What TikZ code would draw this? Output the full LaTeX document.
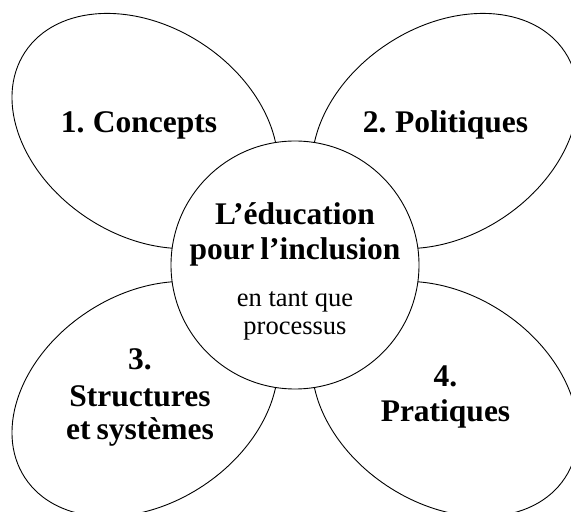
\documentclass[tikz,border=0pt]{standalone}
\usepackage{fontspec}
\setmainfont{Liberation Serif}
\newcommand\petalfont{\fontsize{31.5}{35}\selectfont\bfseries\spaceskip=0.19em\relax}
\newcommand\hubsmallfont{\fontsize{26.5}{28}\selectfont}
\begin{document}
\begin{tikzpicture}[x=1pt,y=1pt,
  petal/.style={draw=black, line width=0.9pt},
  hubstyle/.style={draw=black, circle, fill=white, minimum size=248pt, line width=0.9pt, inner sep=0pt},
  big/.style={font=\petalfont, anchor=base, inner sep=0pt},
  small/.style={font=\hubsmallfont, anchor=base, inner sep=0pt}]
\useasboundingbox (0,0) rectangle (571,512);
\clip (0,0) rectangle (571,512);
\coordinate (c) at (295,247);
\coordinate (e1) at (145,381);
\coordinate (e2) at (445,381);
\coordinate (e3) at (145,113);
\coordinate (e4) at (445,113);
\draw[petal, rotate around={-33.3:(e1)}] (e1) ellipse [x radius=143.6pt, y radius=104.4pt];
\draw[petal, rotate around={33.3:(e2)}] (e2) ellipse [x radius=143.6pt, y radius=104.4pt];
\draw[petal, rotate around={33.3:(e3)}] (e3) ellipse [x radius=143.6pt, y radius=104.4pt];
\draw[petal, rotate around={-33.3:(e4)}] (e4) ellipse [x radius=143.6pt, y radius=104.4pt];
\node[hubstyle] (hub) at (c) {};
\node[big] (t1) at (139,379) {1. Concepts};
\node[big] (t2) at (445.5,379) {2. Politiques};
\node[big] (t3a) at (140,142) {3.};
\node[big] (t3b) at (140,105) {Structures};
\node[big] (t3c) at (140,72) {et systèmes};
\node[big] (t4a) at (445.5,125) {4.};
\node[big] (t4b) at (445.5,90) {Pratiques};
\node[big] (h1) at (295,287) {L’éducation};
\node[big] (h2) at (295,252) {pour l’inclusion};
\node[small] (h3) at (295,205) {en tant que};
\node[small] (h4) at (295,177) {processus};
\end{tikzpicture}
\end{document}
